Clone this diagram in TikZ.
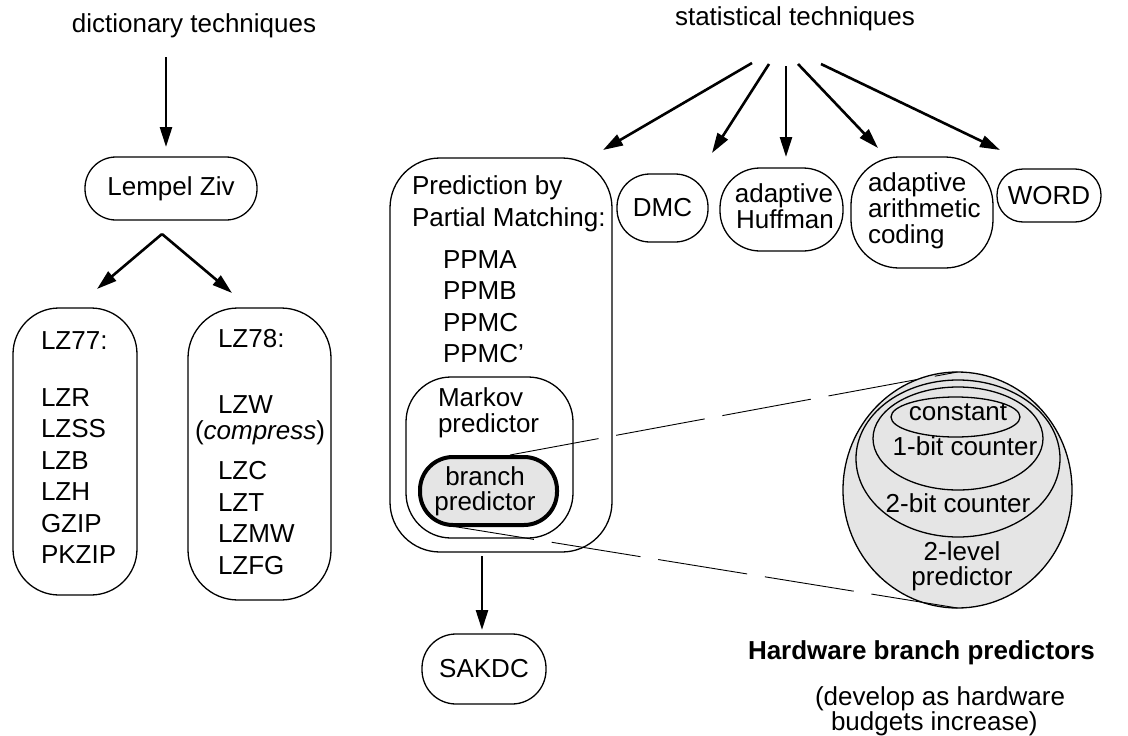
\documentclass[tikz,border=0pt]{standalone}
\usepackage{fontspec}
\setmainfont{Liberation Sans}
\usetikzlibrary{arrows.meta,shapes.geometric,calc}
\definecolor{lgray}{gray}{0.9}
\begin{document}
\begin{tikzpicture}[x=1pt,y=-1pt,
  every node/.style={font=\fontsize{26}{26}\selectfont, inner sep=0pt, outer sep=0pt},
  rbox/.style={draw, line width=1.3pt, rounded corners=#1},
  rbox/.default=30pt,
  arr/.style={line width=2.6pt, -{Triangle[length=20pt,width=12pt]}},
  zline/.style={line width=0.9pt, dash pattern=on 90pt off 18pt},
  lt/.style={anchor=base west},
  ct/.style={anchor=base},
  oval/.style={ellipse, draw, line width=1.3pt, fill=lgray, inner sep=0pt},
]
\useasboundingbox (0,0) rectangle (1128,736);

% ---------- dictionary side ----------
\node[ct] (dict) at (194,32) {dictionary techniques};
\node[rbox=31pt, minimum width=172, minimum height=63] (lz) at (171,188.5) {Lempel Ziv};
\coordinate (d1) at (166,57);
\coordinate (d2) at (166,147);
\draw[arr] (d1) -- (d2);

\node[rbox=46pt, minimum width=124, minimum height=287] (lz77) at (75,451.5) {};
\node[rbox=50pt, minimum width=143, minimum height=292] (lz78) at (259.5,454) {};
\coordinate (l0) at (162,234);
\coordinate (l1) at (97,289);
\coordinate (l2) at (232,293);
\draw[arr] (l0) -- (l1);
\draw[arr] (l0) -- (l2);

\node[lt] (t77) at (41,349) {LZ77:};
\foreach \t/\y [count=\i] in {LZR/406, LZSS/437, LZB/469, LZH/500, GZIP/532, PKZIP/563}
  \node[lt] (a\i) at (41,\y) {\t};

\node[lt] (t78) at (218,347) {LZ78:};
\node[lt] (lzw) at (218,413) {LZW};
\node[lt] (cmp) at (195,439) {(\textit{compress})};
\foreach \t/\y [count=\i] in {LZC/479, LZT/511, LZMW/542, LZFG/574}
  \node[lt] (b\i) at (218,\y) {\t};

% ---------- statistical side ----------
\node[ct] (stat) at (795,25) {statistical techniques};

\node[rbox=50pt, minimum width=222, minimum height=394] (ppm) at (501,355) {};
\node[rbox=33pt, minimum width=91, minimum height=68] (dmc) at (662.5,208) {DMC};
\node[rbox=40pt, minimum width=123, minimum height=83] (huf) at (781.5,209.5) {};
\node[rbox=48pt, minimum width=142, minimum height=111] (ari) at (922,212.5) {};
\node[rbox=26pt, minimum width=104, minimum height=53] (word) at (1049,195.5) {WORD};

\foreach \n/\sx/\sy/\ex/\ey in {p/752/63/603/150, q/769/64/712/153, r/786/66/786/157, s/798/64/878/148, u/821/64/1000/150}{
  \coordinate (\n0) at (\sx,\sy);
  \coordinate (\n1) at (\ex,\ey);
  \draw[arr] (\n0) -- (\n1);
}

\node[ct] (huf1) at (784,202) {adaptive};
\node[ct] (huf2) at (785,228) {Huffman};
\node[lt] (ari1) at (868,191) {adaptive};
\node[lt] (ari2) at (868,217) {arithmetic};
\node[lt] (ari3) at (868,243) {coding};

\node[lt] (pp1) at (412,194) {Prediction by};
\node[lt] (pp2) at (412,226) {Partial Matching:};
\foreach \t/\y [count=\i] in {PPMA/268, PPMB/299, PPMC/331, PPMC'/362}
  \node[lt] (c\i) at (443,\y) {\t};

\node[rbox=45pt, minimum width=167, minimum height=161] (mk) at (489.5,457.5) {};
\node[lt] (mk1) at (438,406) {Markov};
\node[lt] (mk2) at (438,432) {predictor};

\node[draw, line width=4pt, fill=lgray, rounded corners=33pt, minimum width=137, minimum height=68] (br) at (488.5,491) {};
\node[ct] (br1) at (485,485) {branch};
\node[ct] (br2) at (485,510) {predictor};

\node[rbox=34pt, minimum width=124, minimum height=70] (sak) at (484,669) {SAKDC};
\coordinate (s0) at (482,556);
\coordinate (s1) at (482,630);
\draw[arr] (s0) -- (s1);

% ---------- hardware predictors ----------
\node[oval, minimum width=229, minimum height=236] (outer) at (957.5,490) {};
\node[oval, minimum width=204, minimum height=157] (two) at (958,458.5) {};
\node[oval, minimum width=170, minimum height=103] (one) at (958,438.5) {};
\node[oval, minimum width=129, minimum height=40] (con) at (955.5,417) {};
\node[ct] (cont) at (958,420) {constant};
\node[ct] (onet) at (965,455) {1-bit counter};
\node[ct] (twot) at (958,512) {2-bit counter};
\node[ct] (lv1) at (962,560) {2-level};
\node[ct] (lv2) at (962,585) {predictor};

\coordinate (z1) at (510,455);
\coordinate (z2) at (445,525);
\draw[zline] (z1) -- (outer.north);
\draw[zline] (z2) -- (outer.south);

\node[lt, font=\fontsize{26}{26}\selectfont\bfseries] (hw) at (748,659) {Hardware branch predictors};
\node[lt] (hw1) at (815,705) {(develop as hardware};
\node[lt] (hw2) at (831,730) {budgets increase)};
\end{tikzpicture}
\end{document}
